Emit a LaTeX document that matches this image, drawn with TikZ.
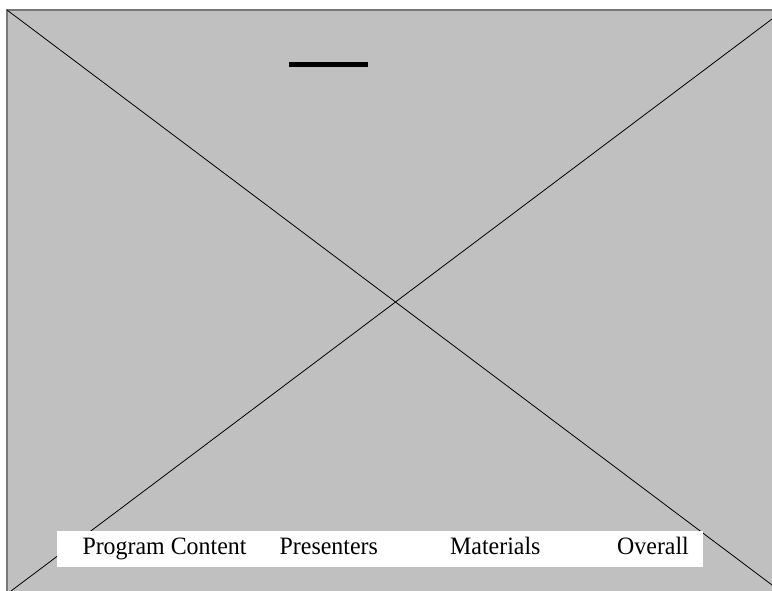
\documentclass[tikz,border=0pt]{standalone}
\usepackage{fontspec}
\setmainfont{Liberation Serif}[FakeStretch=0.956]
\definecolor{panelgray}{RGB}{192,192,192}
\definecolor{edgegray}{RGB}{120,120,120}
\begin{document}
\begin{tikzpicture}[x=1pt,y=-1pt,
  lbl/.style={anchor=base west,inner sep=0pt,font=\fontsize{25}{30}\selectfont},
  diag/.style={draw=black,line width=0.8pt}]
\useasboundingbox (0,0) rectangle (772,590);
\begin{scope}
\clip (0,0) rectangle (772,590);
\fill[panelgray,draw=edgegray,line width=2pt] (7,10) rectangle (784,594);
\coordinate (tl) at (7,10);
\coordinate (br) at (784,594);
\coordinate (bl) at (7,594);
\coordinate (tr) at (784,10);
\draw[diag] (tl) -- (br);
\draw[diag] (bl) -- (tr);
\end{scope}
\coordinate (barL) at (289,64.5);
\coordinate (barR) at (368,64.5);
\draw[line width=4.3pt,black] (barL) -- (barR);
\fill[white] (57,530.5) rectangle (703,567);
\node[lbl] (pc) at (82.3,554.5) {Program Content};
\node[lbl] (pr) at (279.5,554.5) {Presenters};
\node[lbl] (ma) at (450,554.5) {Materials};
\node[lbl] (ov) at (617,554.5) {Overall};
\end{tikzpicture}
\end{document}
